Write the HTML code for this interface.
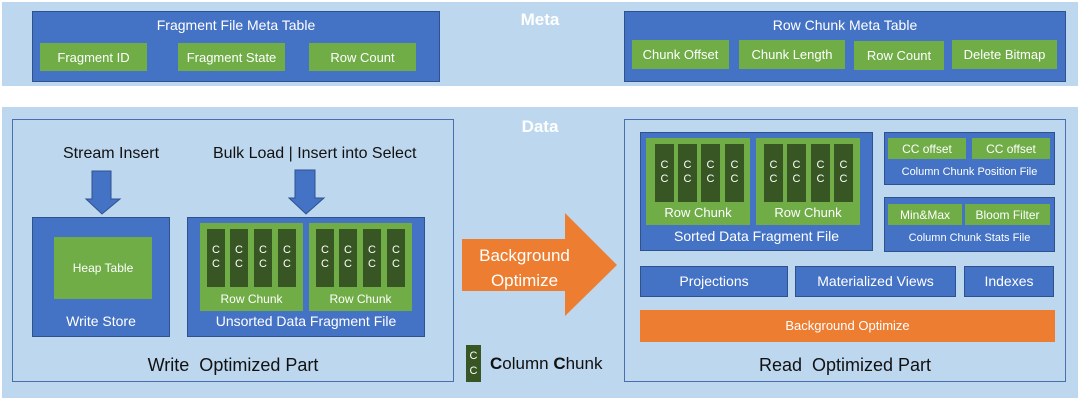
<!DOCTYPE html>
<html><head><meta charset="utf-8"><style>
body{margin:0;width:1080px;height:400px;background:#fff;position:relative;overflow:hidden;font-family:"Liberation Sans",Arial,sans-serif}
div{position:absolute;box-sizing:border-box}
.band{background:#bdd7ee}
.b{background:#4472c4;border:1px solid #2f528f}
.g{background:#70ad47;color:#fff;display:flex;align-items:center;justify-content:center;font-size:12px}
.m{font-size:13px}
.d{background:#375623;color:#fff;font-size:11px;line-height:14px;text-align:center;padding-top:14px}
.t{color:#fff;text-align:center;white-space:nowrap}
.k{color:#111;white-space:nowrap}
.o{border:1px solid #4a6fb0}
</style></head><body>
<div class="band" style="left:2px;top:2px;width:1076px;height:84px"></div>
<div class="band" style="left:2px;top:107px;width:1076px;height:291px"></div>
<div class="t" style="left:500px;top:10px;width:80px;font-size:17px;font-weight:bold">Meta</div>
<div class="t" style="left:500px;top:117px;width:80px;font-size:17px;font-weight:bold">Data</div>

<div class="b" style="left:32px;top:11px;width:408px;height:71px"></div>
<div class="t" style="left:32px;top:17px;width:408px;font-size:14px">Fragment File Meta Table</div>
<div class="g m" style="left:40px;top:43px;width:107px;height:28px">Fragment ID</div>
<div class="g m" style="left:178px;top:43px;width:107px;height:28px">Fragment State</div>
<div class="g m" style="left:309px;top:43px;width:107px;height:28px">Row Count</div>

<div class="b" style="left:624px;top:11px;width:442px;height:71px"></div>
<div class="t" style="left:624px;top:17px;width:442px;font-size:14px">Row Chunk Meta Table</div>
<div class="g m" style="left:632px;top:40px;width:97px;height:29px">Chunk Offset</div>
<div class="g m" style="left:739px;top:40px;width:106px;height:29px">Chunk Length</div>
<div class="g m" style="left:854px;top:41px;width:90px;height:29px">Row Count</div>
<div class="g m" style="left:952px;top:40px;width:105px;height:29px">Delete Bitmap</div>

<div class="o" style="left:12px;top:119px;width:442px;height:263px"></div>
<div class="o" style="left:624px;top:119px;width:442px;height:263px"></div>

<div class="k" style="left:63px;top:145px;font-size:16px">Stream Insert</div>
<div class="k" style="left:213px;top:145px;font-size:16px">Bulk Load | Insert into Select</div>
<svg style="position:absolute;left:0;top:0" width="1080" height="400">
<polygon points="92,171 111,171 111,199 120,199 102,214 86,199 92,199" fill="#4472c4" stroke="#2f528f"/>
<polygon points="295,170 315,170 315,198 324,198 306,214 289,198 295,198" fill="#4472c4" stroke="#2f528f"/>
<polygon points="462,239 565,239 565,213 617,265 565,316 565,291 462,291" fill="#ed7d31"/>
</svg>
<div class="t" style="left:462px;top:243px;width:125px;font-size:17px;line-height:25px">Background<br>Optimize</div>

<div class="b" style="left:32px;top:217px;width:138px;height:120px"></div>
<div class="g" style="left:54px;top:237px;width:98px;height:62px">Heap Table</div>
<div class="t" style="left:32px;top:313px;width:138px;font-size:14px">Write Store</div>

<div class="b" style="left:187px;top:217px;width:238px;height:120px"></div>
<div class="g" style="left:200px;top:223px;width:103px;height:88px;align-items:flex-end;padding-bottom:5px">Row Chunk</div>
<div class="g" style="left:309px;top:223px;width:103px;height:88px;align-items:flex-end;padding-bottom:5px">Row Chunk</div>
<div class="d" style="left:207px;top:229px;width:18px;height:58px">C<br>C</div>
<div class="d" style="left:230px;top:229px;width:18px;height:58px">C<br>C</div>
<div class="d" style="left:254px;top:229px;width:18px;height:58px">C<br>C</div>
<div class="d" style="left:278px;top:229px;width:18px;height:58px">C<br>C</div>
<div class="d" style="left:316px;top:229px;width:18px;height:58px">C<br>C</div>
<div class="d" style="left:339px;top:229px;width:18px;height:58px">C<br>C</div>
<div class="d" style="left:363px;top:229px;width:18px;height:58px">C<br>C</div>
<div class="d" style="left:387px;top:229px;width:18px;height:58px">C<br>C</div>
<div class="t" style="left:187px;top:313px;width:238px;font-size:14px">Unsorted Data Fragment File</div>
<div class="k" style="left:12px;top:355px;width:442px;text-align:center;font-size:18px">Write&nbsp; Optimized Part</div>

<div class="d" style="left:466px;top:345px;width:15px;height:37px;padding-top:4px;line-height:15px">C<br>C</div>
<div class="k" style="left:490px;top:354px;font-size:17px"><b>C</b>olumn <b>C</b>hunk</div>

<div class="b" style="left:640px;top:132px;width:233px;height:119px"></div>
<div class="g" style="left:646px;top:138px;width:104px;height:87px;align-items:flex-end;padding-bottom:5px;font-size:13px">Row Chunk</div>
<div class="g" style="left:756px;top:138px;width:104px;height:87px;align-items:flex-end;padding-bottom:5px;font-size:13px">Row Chunk</div>
<div class="d" style="left:655px;top:144px;width:19px;height:58px">C<br>C</div>
<div class="d" style="left:678px;top:144px;width:19px;height:58px">C<br>C</div>
<div class="d" style="left:701px;top:144px;width:19px;height:58px">C<br>C</div>
<div class="d" style="left:725px;top:144px;width:19px;height:58px">C<br>C</div>
<div class="d" style="left:764px;top:144px;width:19px;height:58px">C<br>C</div>
<div class="d" style="left:787px;top:144px;width:19px;height:58px">C<br>C</div>
<div class="d" style="left:811px;top:144px;width:19px;height:58px">C<br>C</div>
<div class="d" style="left:834px;top:144px;width:19px;height:58px">C<br>C</div>
<div class="t" style="left:640px;top:228px;width:233px;font-size:14px">Sorted Data Fragment File</div>

<div class="b" style="left:884px;top:132px;width:171px;height:53px"></div>
<div class="g" style="left:888px;top:138px;width:78px;height:21px">CC offset</div>
<div class="g" style="left:972px;top:138px;width:78px;height:21px">CC offset</div>
<div class="t" style="left:884px;top:166px;width:171px;font-size:11px">Column Chunk Position File</div>
<div class="b" style="left:884px;top:197px;width:171px;height:55px"></div>
<div class="g" style="left:888px;top:204px;width:74px;height:21px">Min&amp;Max</div>
<div class="g" style="left:965px;top:204px;width:85px;height:21px">Bloom Filter</div>
<div class="t" style="left:884px;top:232px;width:171px;font-size:11px">Column Chunk Stats File</div>

<div class="b t" style="left:640px;top:266px;width:148px;height:31px;line-height:29px;font-size:14px">Projections</div>
<div class="b t" style="left:795px;top:266px;width:161px;height:31px;line-height:29px;font-size:14px">Materialized Views</div>
<div class="b t" style="left:964px;top:266px;width:90px;height:31px;line-height:29px;font-size:14px">Indexes</div>
<div class="t" style="left:640px;top:310px;width:415px;height:32px;line-height:32px;background:#ed7d31;font-size:13px">Background Optimize</div>
<div class="k" style="left:624px;top:355px;width:442px;text-align:center;font-size:18px">Read&nbsp; Optimized Part</div>
</body></html>
